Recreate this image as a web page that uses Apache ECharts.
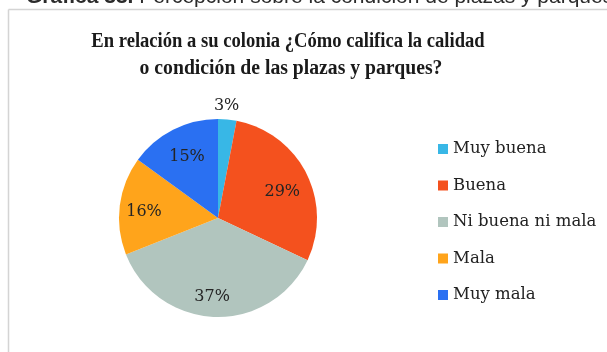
<!DOCTYPE html>
<html>
<head>
<meta charset="utf-8">
<script src="https://cdn.jsdelivr.net/npm/echarts@6/dist/echarts.min.js"></script>
<style>
  html, body { margin: 0; padding: 0; background: #fff; }
  #chart { width: 607px; height: 352px; }
</style>
</head>
<body>
<div id="chart"></div>
<script>
// Survey answers and their shares (percent)
const categories = ['Muy buena', 'Buena', 'Ni buena ni mala', 'Mala', 'Muy mala'];
const shares = [3, 29, 37, 16, 15];
const sliceColors = ['#38b7e6', '#f4511e', '#b1c5be', '#ffa41b', '#2a70f2'];
// placement of each percentage label: fraction of the radius, and a small angular nudge (degrees)
const labelRadiusFactor = [1.135, 0.70, 0.80, 0.75, 0.69];
const labelAngleNudge = [-1, 5, 2.5, -2.5, 0];

const titleLines = ['En relación a su colonia ¿Cómo califica la calidad', 'o condición de las plazas y parques?'];
const headerBold = 'Gráfica 33.';
const headerRest = ' Percepción sobre la condición de plazas y parques';

const pieCenter = [218, 218];
const pieRadius = 99;
const serif = '"DejaVu Serif", serif';
const titleSerif = '"Liberation Serif", serif';

const total = shares.reduce((a, b) => a + b, 0);
const midAngles = [];
let acc = 0;
shares.forEach((v, i) => {
  midAngles.push((acc + v / 2) / total * 2 * Math.PI + labelAngleNudge[i] * Math.PI / 180);
  acc += v;
});

const chart = echarts.init(document.getElementById('chart'), null, { renderer: 'canvas' });
chart.setOption({
  animation: false,
  backgroundColor: '#fff',
  color: sliceColors,
  graphic: [
    // page caption above the frame, partly cut off at the top
    {
      type: 'text', left: 26, top: -13, silent: true,
      style: {
        text: '{b|' + headerBold + '}{r|' + headerRest + '}',
        rich: {
          b: { fontFamily: '"Liberation Sans", Arial, sans-serif', fontSize: 21, fontWeight: 'bold', fill: '#2b2b2b' },
          r: { fontFamily: '"Liberation Sans", Arial, sans-serif', fontSize: 21, fill: '#2b2b2b' }
        }
      }
    },
    // chart frame
    { type: 'line', silent: true, shape: { x1: 8.5, y1: 9.5, x2: 607, y2: 9.5 }, style: { stroke: '#d4d4d4', lineWidth: 1.5 } },
    { type: 'line', silent: true, shape: { x1: 8.5, y1: 9.5, x2: 8.5, y2: 352 }, style: { stroke: '#d4d4d4', lineWidth: 1.5 } },
    // title, two centred lines
    {
      type: 'text', x: 288, y: 52, scaleX: 0.93, silent: true,
      style: { text: titleLines[0], fontFamily: titleSerif, fontWeight: 'bold', fontSize: 20, fill: '#1a1a1a', align: 'center', verticalAlign: 'bottom' }
    },
    {
      type: 'text', x: 291, y: 79, scaleX: 0.985, silent: true,
      style: { text: titleLines[1], fontFamily: titleSerif, fontWeight: 'bold', fontSize: 20, fill: '#1a1a1a', align: 'center', verticalAlign: 'bottom' }
    }
  ],
  legend: {
    orient: 'vertical',
    left: 438,
    top: 139,
    padding: 0,
    itemWidth: 10,
    itemHeight: 10,
    itemGap: 16.5,
    icon: 'rect',
    data: categories,
    textStyle: { fontFamily: serif, fontSize: 16.5, lineHeight: 20, color: '#222', padding: [0, 0, 0, 0] }
  },
  series: [{
    type: 'pie',
    center: pieCenter,
    radius: pieRadius,
    startAngle: 90,
    clockwise: true,
    silent: true,
    label: {
      show: true,
      position: 'inside',
      formatter: p => p.value + '%',
      fontFamily: serif,
      fontSize: 16,
      color: '#242424'
    },
    labelLine: { show: false },
    labelLayout: function (params) {
      const i = params.dataIndex;
      const a = midAngles[i];
      const f = labelRadiusFactor[i] * pieRadius;
      return {
        x: pieCenter[0] + f * Math.sin(a),
        y: pieCenter[1] - f * Math.cos(a),
        align: 'center',
        verticalAlign: 'middle'
      };
    },
    itemStyle: { borderWidth: 0 },
    data: categories.map((name, i) => ({ name: name, value: shares[i] }))
  }]
});
</script>
</body>
</html>
